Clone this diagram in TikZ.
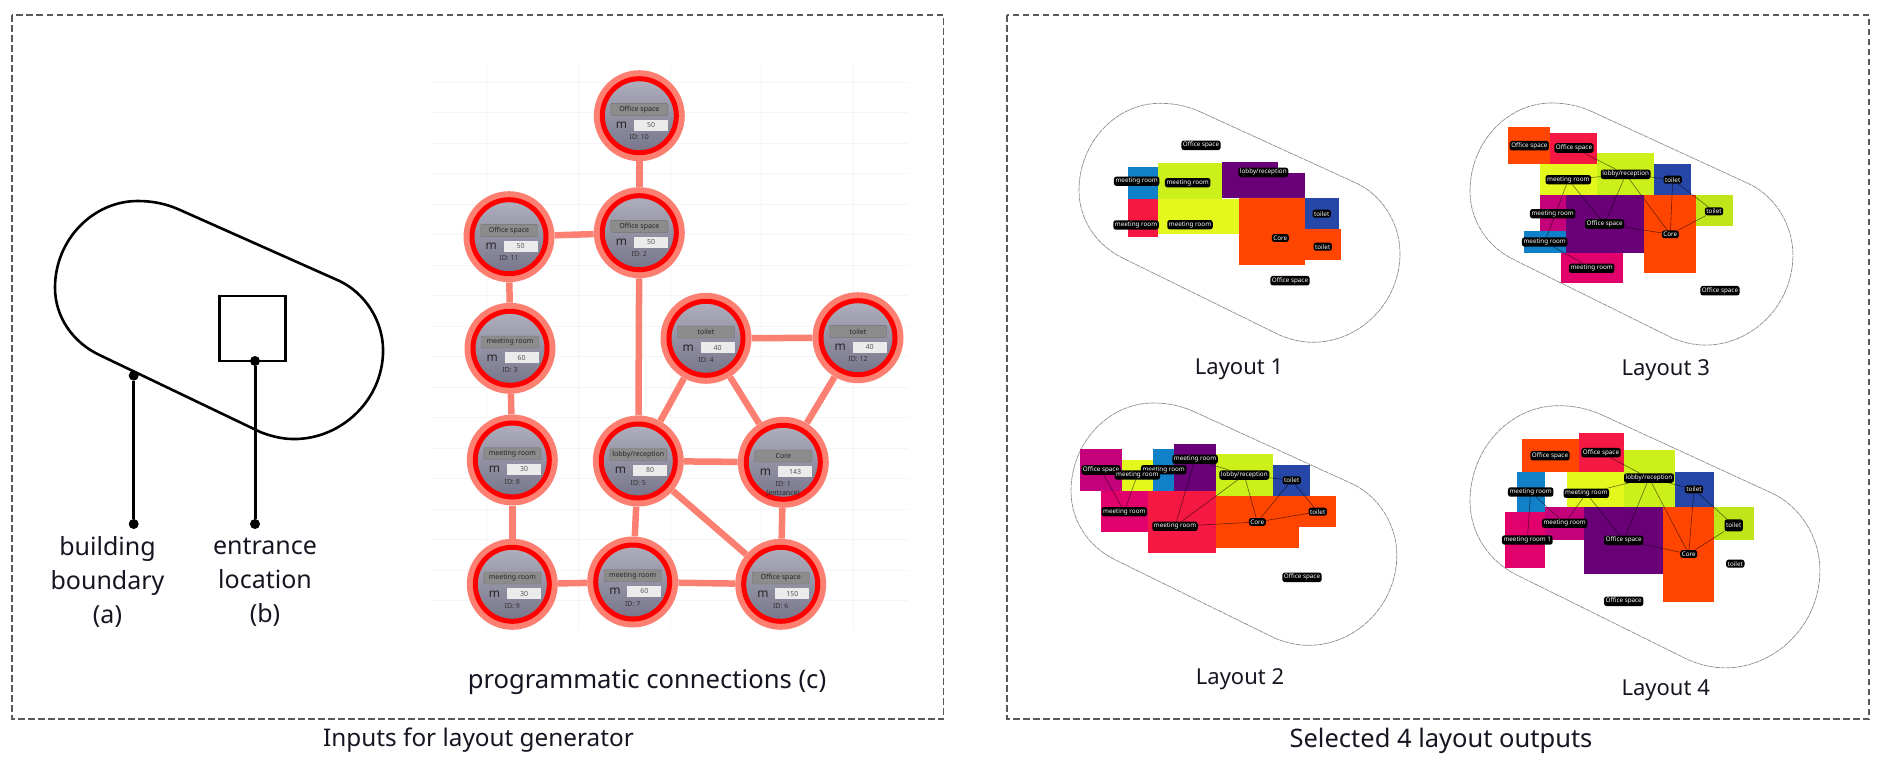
\documentclass[tikz,border=0pt]{standalone}
\usepackage{fontspec}
\setmainfont{Noto Sans}
\usetikzlibrary{positioning}

\definecolor{halosalmon}{RGB}{252,128,114}
\definecolor{discgraytop}{RGB}{176,175,190}
\definecolor{discgraybot}{RGB}{118,117,138}
\definecolor{inktext}{RGB}{22,22,34}
\definecolor{tileblue}{RGB}{16,128,200}
\definecolor{tilecrimson}{RGB}{245,24,66}
\definecolor{tilelime}{RGB}{204,240,26}
\definecolor{tileyellow}{RGB}{228,248,30}
\definecolor{tilepurple}{RGB}{106,0,120}
\definecolor{tileorange}{RGB}{255,69,0}
\definecolor{tileroyal}{RGB}{38,70,168}
\definecolor{tilemagenta}{RGB}{196,0,122}
\definecolor{tilepink}{RGB}{226,0,108}
\definecolor{tileolive}{RGB}{192,230,26}

\tikzset{
  frameline/.style={draw=black!65,line width=1.1pt,dash pattern=on 6.5pt off 3.5pt},
  gridline/.style={draw=black!4,line width=0.8pt},
  mainboundary/.style={draw=black,line width=2.6pt},
  layoutboundary/.style={draw=black!45,line width=0.7pt,dash pattern=on 5pt off 0.7pt},
  leadline/.style={draw=black,line width=3pt},
  leaddot/.style={circle,fill=black,inner sep=0pt,minimum size=10pt},
  entrancebox/.style={draw=black,line width=2.6pt,inner sep=0pt,minimum width=66pt,minimum height=65pt},
  caption/.style={text=inktext,font=\fontsize{25}{34}\selectfont,align=center,inner sep=0pt},
  layoutcaption/.style={text=inktext,font=\fontsize{22}{30}\selectfont,inner sep=0pt},
  roomhalo/.style={circle,fill=halosalmon,inner sep=0pt,minimum size=91pt},
  roomdisc/.style={circle,draw=red,line width=5pt,top color=discgraytop,bottom color=discgraybot,inner sep=0pt,minimum size=74pt},
  roomlink/.style={draw=halosalmon,line width=6.5pt},
  roombutton/.style={draw=black!55,fill=black!45,rounded corners=1pt,inner sep=0pt,minimum width=57pt,minimum height=12pt,text=black!85,font=\fontsize{7}{8}\selectfont},
  roomvalue/.style={fill=black!8,inner sep=0pt,minimum width=34pt,minimum height=11pt,text=black!65,font=\fontsize{7}{8}\selectfont},
  roomunit/.style={inner sep=0pt,text=black!85,font=\fontsize{12}{12}\selectfont},
  roomid/.style={inner sep=0pt,text=black!80,font=\fontsize{7}{8}\selectfont},
  roomtag/.style={fill=black,text=white,rounded corners=2.5pt,inner sep=1.6pt,font=\fontsize{6.3}{7}\selectfont},
  taglink/.style={draw=black,opacity=0.55,line width=0.6pt},
  pics/capsule/.style={code={
    \draw[#1] (121,8.4) -- (277.7,80) .. controls (303,92) and (321,120) .. (321,150)
      .. controls (321,200) and (280,239) .. (234,239) .. controls (222,239) and (211,236) .. (201,232)
      -- (44.3,155) .. controls (17,142) and (0,116) .. (0,87) .. controls (0,39) and (37,0) .. (81,0)
      .. controls (96,0) and (109,3) .. (121,8.4) -- cycle;
  }}
}

\newcommand{\roomnode}[6]{%
  \node[roomhalo] (#1) at (#2,#3) {};
  \node[roomdisc] (#1disc) at (#2,#3) {};
  \node[roombutton] (#1name) at (#2,#3-6.3) {#4};
  \node[roomvalue] (#1value) at (#2+11.7,#3+9.3) {#5};
  \node[roomunit] (#1unit) at (#2-17.7,#3+9.5) {m};
  \node[roomid] (#1id) at (#2,#3+21.7) {ID: #6};
}

\begin{document}
\begin{tikzpicture}[x=1pt,y=1pt,yscale=-1]
\useasboundingbox (0,0) rectangle (1885,763);

% panels
\draw[frameline] (12,15) rectangle (943.5,719);
\draw[frameline] (1007,15) rectangle (1869,719);
\node[caption,font=\fontsize{24.3}{34}\selectfont] (inputscaption) at (478.5,740.5) {Inputs for layout generator};
\node[caption,font=\fontsize{25.5}{34}\selectfont] (outputscaption) at (1441,740.5) {Selected 4 layout outputs};

% boundary and entrance
\pic[xscale=1.022,yscale=-0.996] at (55,201) {capsule=mainboundary};
\node[entrancebox] (entrance) at (252.7,328.5) {};
\node[leaddot] (boundarydot) at (133.7,375.6) {};
\node[leaddot] (boundaryend) at (133.7,524) {};
\node[leaddot] (entrancedot) at (255,361) {};
\node[leaddot] (entranceend) at (255,524) {};
\draw[leadline] (boundarydot) -- (boundaryend);
\draw[leadline] (entrancedot) -- (entranceend);
\node[caption] (boundarytext) at (107.5,582) {building\\boundary\\(a)};
\node[caption] (entrancetext) at (265,582) {entrance\\location\\(b)};

% faint grid behind the connections
\foreach \gy in {82,112.5,...,603} {\draw[gridline] (432,\gy) -- (908,\gy);}
\foreach \gx in {486.7,578.3,670,761.7,853.3} {\draw[gridline] (\gx,63) -- (\gx,630);}

% programmatic connections
\roomnode{room10}{639.3}{115.7}{Office space}{50}{10}
\roomnode{room2}{639.3}{232.7}{Office space}{50}{2}
\roomnode{room11}{509}{236.7}{Office space}{50}{11}
\roomnode{room3}{510}{348.3}{meeting room}{60}{3}
\roomnode{room4}{706}{338.3}{toilet}{40}{4}
\roomnode{room12}{858}{337.7}{toilet}{40}{12}
\roomnode{room8}{512.3}{460}{meeting room}{30}{8}
\roomnode{room5}{638.3}{461}{lobby/reception}{80}{5}
\roomnode{room1}{783.3}{462.3}{Core}{143}{1}
\roomnode{room9}{512.3}{584.3}{meeting room}{30}{9}
\roomnode{room7}{632.7}{582}{meeting room}{60}{7}
\roomnode{room6}{780.7}{584.3}{Office space}{150}{6}
\node[roomid,text=black!85] (room1note) at (783,493.5) {(entrance)};
\draw[roomlink] (room10) -- (room2);
\draw[roomlink] (room2) -- (room11);
\draw[roomlink] (room11) -- (room3);
\draw[roomlink] (room3) -- (room8);
\draw[roomlink] (room8) -- (room9);
\draw[roomlink] (room9) -- (room7);
\draw[roomlink] (room7) -- (room5);
\draw[roomlink] (room2) -- (room5);
\draw[roomlink] (room5) -- (room4);
\draw[roomlink] (room4) -- (room1);
\draw[roomlink] (room4) -- (room12);
\draw[roomlink] (room12) -- (room1);
\draw[roomlink] (room5) -- (room1);
\draw[roomlink] (room5) -- (room6);
\draw[roomlink] (room7) -- (room6);
\draw[roomlink] (room1) -- (room6);
\node[caption,font=\fontsize{25.6}{34}\selectfont] (connectionstext) at (647,682.5) {programmatic connections (c)};

% layout 1
\pic[yscale=-1] at (1079,103.3) {capsule=layoutboundary};
\fill[tileblue] (1128,167.3) rectangle (1158.3,198.7);
\fill[tilecrimson] (1128,198.7) rectangle (1158.3,236.7);
\fill[tilelime] (1158.3,162.7) rectangle (1221.7,198.7);
\fill[tileyellow] (1158.3,198.7) rectangle (1239,234.3);
\fill[tilepurple] (1221.7,162) rectangle (1278,173.3);
\fill[tilepurple] (1221.7,173.3) rectangle (1305,198.3);
\fill[tileorange] (1239,198.3) rectangle (1305,264.7);
\fill[tileroyal] (1305,198.3) rectangle (1339.3,228.7);
\fill[tileorange] (1305,228.7) rectangle (1341,260);
\node[roomtag] (oneofficea) at (1201,145.3) {Office space};
\node[roomtag] (onelobby) at (1263.3,172.3) {lobby/reception};
\node[roomtag] (onemeetinga) at (1136.7,181.3) {meeting room};
\node[roomtag] (onemeetingb) at (1187.7,182.7) {meeting room};
\node[roomtag] (onemeetingc) at (1136,225) {meeting room};
\node[roomtag] (onemeetingd) at (1190,224.7) {meeting room};
\node[roomtag] (onetoileta) at (1321.7,213.7) {toilet};
\node[roomtag] (onetoiletb) at (1322.7,246.7) {toilet};
\node[roomtag] (onecore) at (1280.3,238) {Core};
\node[roomtag] (oneofficeb) at (1290,280.7) {Office space};
\node[layoutcaption] (onecaption) at (1239,369.5) {Layout 1};

% layout 3
\pic[xscale=1.006,yscale=-1.013] at (1470,103) {capsule=layoutboundary};
\fill[tileorange] (1508.3,127) rectangle (1550.3,164);
\fill[tilecrimson] (1550.3,132.7) rectangle (1597,164);
\fill[tileyellow] (1539.7,164) rectangle (1597,195.3);
\fill[tilelime] (1597,153.3) rectangle (1654.3,195.3);
\fill[tileroyal] (1654.3,164) rectangle (1690.7,195.3);
\fill[tileolive] (1696,195.3) rectangle (1732.7,226);
\fill[tilemagenta] (1539.7,195.3) rectangle (1566,231.3);
\fill[tileblue] (1524,231.3) rectangle (1566,252.7);
\fill[tilepurple] (1566,195.3) rectangle (1644,252.7);
\fill[tilepink] (1560.7,252.7) rectangle (1623,283.3);
\fill[tileorange] (1644,195.3) rectangle (1696,273);
\node[roomtag] (threeofficea) at (1529.3,145.7) {Office space};
\node[roomtag] (threeofficeb) at (1574,148) {Office space};
\node[roomtag] (threemeetinga) at (1568.3,179.7) {meeting room};
\node[roomtag] (threelobby) at (1625.7,174.3) {lobby/reception};
\node[roomtag] (threetoileta) at (1672.7,179.7) {toilet};
\node[roomtag] (threetoiletb) at (1714,211.3) {toilet};
\node[roomtag] (threemeetingb) at (1552.7,213.7) {meeting room};
\node[roomtag] (threeofficec) at (1604.7,224) {Office space};
\node[roomtag] (threecore) at (1670.3,234.3) {Core};
\node[roomtag] (threemeetingc) at (1544.7,242) {meeting room};
\node[roomtag] (threemeetingd) at (1591.7,268.3) {meeting room};
\node[roomtag] (threeofficed) at (1720,290.7) {Office space};
\draw[taglink] (threeofficeb) -- (threelobby);
\draw[taglink] (threemeetinga) -- (threelobby);
\draw[taglink] (threelobby) -- (threetoileta);
\draw[taglink] (threelobby) -- (threeofficec);
\draw[taglink] (threelobby) -- (threecore);
\draw[taglink] (threetoileta) -- (threecore);
\draw[taglink] (threetoileta) -- (threetoiletb);
\draw[taglink] (threecore) -- (threetoiletb);
\draw[taglink] (threeofficec) -- (threecore);
\draw[taglink] (threemeetinga) -- (threeofficec);
\draw[taglink] (threemeetinga) -- (threemeetingc);
\draw[taglink] (threemeetingc) -- (threemeetingd);
\node[layoutcaption] (threecaption) at (1665.7,370) {Layout 3};

% layout 2
\pic[xscale=1.015,yscale=-1.014] at (1071,403) {capsule=layoutboundary};
\fill[tilemagenta] (1080,449) rectangle (1121.7,490.7);
\fill[tileyellow] (1121.7,459.7) rectangle (1153.3,490.7);
\fill[tileblue] (1153.3,449) rectangle (1174,490.7);
\fill[tilepurple] (1174,443.7) rectangle (1215.7,490.7);
\fill[tilelime] (1215.7,454) rectangle (1273,496);
\fill[tileroyal] (1273.3,464.7) rectangle (1309.7,496);
\fill[tilepink] (1101,490.7) rectangle (1148,532.3);
\fill[tilecrimson] (1148,490.7) rectangle (1215.7,553.3);
\fill[tileorange] (1215.7,496) rectangle (1299.3,548);
\fill[tileorange] (1299.3,496) rectangle (1336,527);
\node[roomtag] (twooffice) at (1101,470) {Office space};
\node[roomtag] (twomeetinga) at (1163.7,469.7) {meeting room};
\node[roomtag] (twomeetingb) at (1137.3,475) {meeting room};
\node[roomtag] (twomeetingc) at (1195,459.3) {meeting room};
\node[roomtag] (twolobby) at (1244.3,475) {lobby/reception};
\node[roomtag] (twotoileta) at (1291.7,480.3) {toilet};
\node[roomtag] (twotoiletb) at (1317.7,511.7) {toilet};
\node[roomtag] (twomeetingd) at (1124.3,511.7) {meeting room};
\node[roomtag] (twomeetinge) at (1175,526.3) {meeting room};
\node[roomtag] (twocore) at (1257.3,522) {Core};
\node[roomtag] (twoofficeb) at (1302,577.3) {Office space};
\draw[taglink] (twooffice) -- (twomeetingd);
\draw[taglink] (twomeetingb) -- (twomeetingd);
\draw[taglink] (twomeetingc) -- (twomeetinge);
\draw[taglink] (twomeetingc) -- (twolobby);
\draw[taglink] (twolobby) -- (twomeetinge);
\draw[taglink] (twolobby) -- (twocore);
\draw[taglink] (twolobby) -- (twotoileta);
\draw[taglink] (twotoileta) -- (twocore);
\draw[taglink] (twotoileta) -- (twotoiletb);
\draw[taglink] (twocore) -- (twotoiletb);
\draw[taglink] (twomeetinge) -- (twocore);
\node[layoutcaption] (twocaption) at (1240,679.5) {Layout 2};

% layout 4
\pic[xscale=1.09,yscale=-1.097] at (1470,405.7) {capsule=layoutboundary};
\fill[tileorange] (1522.3,439) rectangle (1578.7,472.3);
\fill[tilecrimson] (1578.7,432.7) rectangle (1623.7,472.3);
\fill[tilelime] (1623.7,450) rectangle (1674.7,506.7);
\fill[tileyellow] (1567.3,472.3) rectangle (1623.7,506.7);
\fill[tileblue] (1516.7,472.3) rectangle (1544.7,512);
\fill[tileroyal] (1674.7,472.3) rectangle (1714,506.7);
\fill[tilemagenta] (1544.7,506.7) rectangle (1584.3,540);
\fill[tilepink] (1505.3,512) rectangle (1544.7,568);
\fill[tilepurple] (1584.3,506.7) rectangle (1663.3,574);
\fill[tileorange] (1663.3,506.7) rectangle (1714,602);
\fill[tileolive] (1714,506.7) rectangle (1753.7,540);
\node[roomtag] (fourofficea) at (1550,455.7) {Office space};
\node[roomtag] (fourofficeb) at (1601,452.7) {Office space};
\node[roomtag] (fourlobby) at (1649,478) {lobby/reception};
\node[roomtag] (fourtoileta) at (1694,489.3) {toilet};
\node[roomtag] (fourmeetinga) at (1530.7,492) {meeting room};
\node[roomtag] (fourmeetingb) at (1586.3,493.3) {meeting room};
\node[roomtag] (fourmeetingc) at (1564.7,523.3) {meeting room};
\node[roomtag] (fourmeetingd) at (1527.3,540) {meeting room 1};
\node[roomtag] (fourofficec) at (1623.7,540.3) {Office space};
\node[roomtag] (fourcore) at (1688.7,554) {Core};
\node[roomtag,minimum height=12pt] (fourtoiletb) at (1733.7,525.3) {toilet};
\node[roomtag] (fourtoiletc) at (1735.3,563.7) {toilet};
\node[roomtag] (fourofficed) at (1623.7,601.3) {Office space};
\draw[taglink] (fourofficeb) -- (fourlobby);
\draw[taglink] (fourmeetingb) -- (fourlobby);
\draw[taglink] (fourlobby) -- (fourtoileta);
\draw[taglink] (fourlobby) -- (fourofficec);
\draw[taglink] (fourlobby) -- (fourcore);
\draw[taglink] (fourtoileta) -- (fourcore);
\draw[taglink] (fourtoileta) -- (fourtoiletb);
\draw[taglink] (fourcore) -- (fourtoiletb);
\draw[taglink] (fourofficec) -- (fourcore);
\draw[taglink] (fourmeetingb) -- (fourofficec);
\draw[taglink] (fourmeetingb) -- (fourmeetingc);
\draw[taglink] (fourmeetinga) -- (fourmeetingc);
\draw[taglink] (fourmeetinga) -- (fourmeetingd);
\node[layoutcaption] (fourcaption) at (1665.7,690.5) {Layout 4};

\end{tikzpicture}
\end{document}
